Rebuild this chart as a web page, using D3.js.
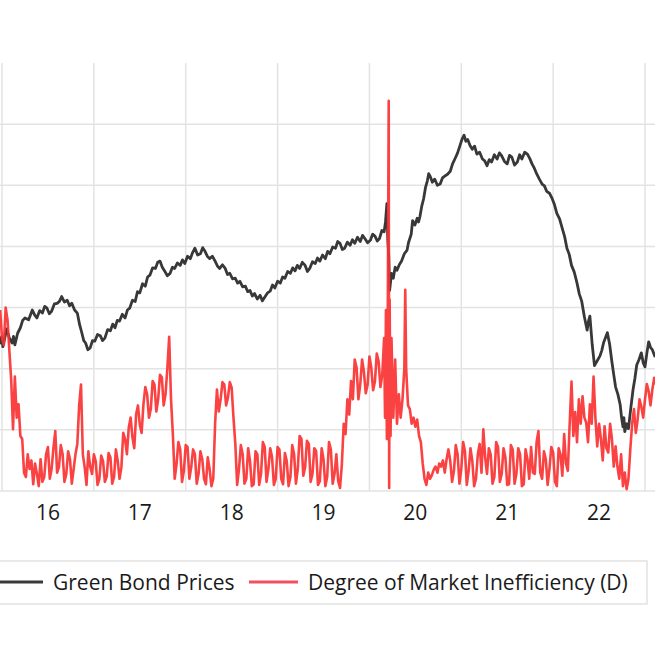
<!DOCTYPE html>
<html>
<head>
<meta charset="utf-8">
<script src="https://cdn.jsdelivr.net/npm/d3@7"></script>
<style>
  body { margin: 0; background: #fff; }
  svg { display: block; }
  .grid line { stroke: #e3e3e3; stroke-width: 1.5; }
  text { font-family: "Open Sans", "Noto Sans", sans-serif; fill: #1a1a1a; }
</style>
</head>
<body>
<div id="chart"></div>
<script>
// year tick labels (mid-year) and year boundaries for the grid
const yearLabels = ["16", "17", "18", "19", "20", "21", "22"];
const yearStarts = [2016, 2017, 2018, 2019, 2020, 2021, 2022, 2023];

// Green bond prices (left axis, cropped off): [year, price]
const pricePoints = [
  [2015.98,104.0],[2015.995,105.2],[2016.01,103.6],[2016.03,105.0],[2016.05,106.5],[2016.08,105.0],
  [2016.11,104.2],[2016.125,105.3],[2016.14,103.9],[2016.17,105.8],[2016.20,106.7],[2016.225,107.9],
  [2016.25,108.3],[2016.29,108.0],[2016.33,109.6],[2016.355,108.8],[2016.38,108.3],[2016.41,109.5],
  [2016.44,109.1],[2016.465,110.2],[2016.49,109.9],[2016.515,109.0],[2016.54,109.4],[2016.57,110.6],
  [2016.60,110.7],[2016.625,111.0],[2016.65,111.8],[2016.68,110.9],[2016.71,111.2],[2016.735,110.3],
  [2016.76,110.7],[2016.79,109.6],[2016.82,109.1],[2016.845,107.2],[2016.87,105.8],[2016.89,104.6],
  [2016.91,104.2],[2016.935,103.1],[2016.96,103.4],[2016.985,104.6],[2017.01,104.5],[2017.04,105.6],
  [2017.07,105.4],[2017.095,104.6],[2017.12,105.0],[2017.15,106.4],[2017.18,106.2],[2017.205,107.3],
  [2017.23,106.7],[2017.255,107.9],[2017.28,107.8],[2017.31,108.9],[2017.34,108.3],[2017.365,109.6],
  [2017.39,109.9],[2017.42,111.2],[2017.45,111.0],[2017.475,112.6],[2017.50,112.4],[2017.53,113.9],
  [2017.56,113.5],[2017.585,115.0],[2017.61,115.3],[2017.64,116.5],[2017.67,116.4],[2017.695,117.4],
  [2017.72,117.6],[2017.745,116.6],[2017.77,116.0],[2017.80,115.2],[2017.83,115.6],[2017.855,116.6],
  [2017.88,116.4],[2017.91,117.3],[2017.94,116.9],[2017.965,117.8],[2017.99,117.2],[2018.02,118.4],
  [2018.05,118.0],[2018.075,119.0],[2018.10,119.7],[2018.13,118.6],[2018.16,118.8],[2018.185,119.8],
  [2018.21,119.2],[2018.235,118.4],[2018.26,118.0],[2018.29,118.4],[2018.32,117.6],[2018.345,116.8],
  [2018.37,116.4],[2018.40,117.0],[2018.43,116.4],[2018.455,115.4],[2018.48,115.6],[2018.51,114.7],
  [2018.54,114.8],[2018.565,114.0],[2018.59,114.3],[2018.62,113.4],[2018.65,113.5],[2018.675,112.6],
  [2018.70,112.8],[2018.725,111.9],[2018.75,112.3],[2018.78,111.4],[2018.81,112.0],[2018.835,111.1],
  [2018.86,111.7],[2018.89,112.4],[2018.92,112.7],[2018.945,113.7],[2018.97,113.2],[2019.00,114.3],
  [2019.03,114.0],[2019.055,115.0],[2019.08,114.8],[2019.11,115.9],[2019.14,115.6],[2019.165,116.5],
  [2019.19,116.0],[2019.215,116.9],[2019.24,116.4],[2019.27,117.4],[2019.30,116.9],[2019.325,115.9],
  [2019.35,116.4],[2019.38,117.5],[2019.41,117.2],[2019.435,118.1],[2019.46,117.6],[2019.49,118.6],
  [2019.52,118.0],[2019.545,119.2],[2019.57,118.8],[2019.60,119.9],[2019.63,119.7],[2019.655,120.8],
  [2019.68,120.5],[2019.705,119.5],[2019.73,119.7],[2019.76,120.7],[2019.79,120.2],[2019.815,121.1],
  [2019.84,120.5],[2019.87,121.5],[2019.90,120.8],[2019.925,121.8],[2019.95,121.3],[2019.98,120.6],
  [2020.01,121.0],[2020.035,122.0],[2020.06,121.7],[2020.085,120.9],[2020.11,121.3],[2020.135,122.6],
  [2020.16,122.4],[2020.175,124.0],[2020.19,127.0],[2020.20,121.0],[2020.21,118.8],[2020.22,112.8],
  [2020.24,115.6],[2020.26,114.8],[2020.28,116.6],[2020.30,116.1],[2020.325,117.0],[2020.35,117.6],
  [2020.38,118.8],[2020.41,119.4],[2020.425,120.6],[2020.44,121.3],[2020.455,122.0],[2020.47,124.2],
  [2020.495,123.5],[2020.52,124.6],[2020.535,124.0],[2020.55,124.9],[2020.57,126.6],[2020.59,127.8],
  [2020.61,129.6],[2020.63,130.7],[2020.645,131.9],[2020.66,131.5],[2020.685,130.5],[2020.71,131.0],
  [2020.74,130.0],[2020.77,130.2],[2020.795,131.2],[2020.82,131.5],[2020.85,131.8],[2020.88,132.3],
  [2020.905,133.5],[2020.93,134.3],[2020.96,135.3],[2020.99,136.7],[2021.01,137.6],[2021.03,138.2],
  [2021.05,137.2],[2021.07,137.5],[2021.095,136.5],[2021.12,135.9],[2021.145,136.4],[2021.17,135.1],
  [2021.20,135.4],[2021.23,134.3],[2021.255,134.0],[2021.28,133.2],[2021.305,134.2],[2021.33,133.8],
  [2021.36,135.0],[2021.39,134.3],[2021.415,135.3],[2021.44,134.8],[2021.47,133.9],[2021.50,133.5],
  [2021.525,134.9],[2021.55,134.6],[2021.58,133.3],[2021.61,133.8],[2021.635,135.0],[2021.66,134.3],
  [2021.69,135.4],[2021.72,135.1],[2021.745,134.4],[2021.77,133.5],[2021.795,132.8],[2021.82,131.9],
  [2021.85,131.0],[2021.88,130.2],[2021.905,129.9],[2021.93,129.0],[2021.96,128.7],[2021.99,127.8],
  [2022.015,126.8],[2022.04,125.4],[2022.07,124.5],[2022.10,122.9],[2022.125,121.6],[2022.15,119.7],
  [2022.175,118.7],[2022.20,116.9],[2022.23,115.8],[2022.26,114.0],[2022.285,112.2],[2022.31,111.1],
  [2022.34,108.5],[2022.37,106.3],[2022.385,107.8],[2022.40,108.6],[2022.425,104.0],[2022.45,100.5],
  [2022.48,101.3],[2022.51,102.1],[2022.53,103.0],[2022.55,104.3],[2022.59,105.9],[2022.615,104.0],
  [2022.64,101.1],[2022.66,99.0],[2022.68,97.0],[2022.705,95.8],[2022.73,94.1],[2022.745,92.0],
  [2022.76,90.5],[2022.77,92.0],[2022.78,89.7],[2022.80,91.0],[2022.82,90.2],[2022.845,93.5],
  [2022.87,96.6],[2022.89,98.4],[2022.91,100.6],[2022.935,101.5],[2022.96,102.6],[2022.98,101.0],
  [2023.00,100.3],[2023.02,102.5],[2023.04,104.4],[2023.06,103.5],[2023.08,103.1],[2023.11,101.9]
];

// Degree of market inefficiency D (right axis, cropped off): [year, D]
const dPoints = [
  [2015.98,0.296],[2016.00,0.250],[2016.02,0.239],[2016.04,0.300],[2016.06,0.280],[2016.08,0.230],
  [2016.10,0.182],[2016.12,0.101],[2016.14,0.187],[2016.16,0.120],[2016.18,0.142],[2016.20,0.090],
  [2016.22,0.085],[2016.24,0.030],[2016.26,0.023],[2016.28,0.060],[2016.30,0.036],[2016.32,0.050],
  [2016.34,0.011],[2016.36,0.045],[2016.38,0.028],[2016.40,0.008],[2016.42,0.052],[2016.44,0.015],
  [2016.46,0.023],[2016.48,0.060],[2016.50,0.072],[2016.52,0.020],[2016.54,0.036],[2016.56,0.070],
  [2016.58,0.098],[2016.60,0.030],[2016.62,0.039],[2016.64,0.075],[2016.66,0.060],[2016.68,0.015],
  [2016.70,0.028],[2016.72,0.065],[2016.74,0.052],[2016.76,0.012],[2016.78,0.036],[2016.80,0.060],
  [2016.82,0.077],[2016.84,0.140],[2016.86,0.174],[2016.88,0.060],[2016.90,0.039],[2016.92,0.010],
  [2016.94,0.065],[2016.96,0.040],[2016.98,0.028],[2017.00,0.060],[2017.02,0.049],[2017.04,0.010],
  [2017.06,0.020],[2017.08,0.058],[2017.10,0.049],[2017.12,0.015],[2017.14,0.024],[2017.16,0.062],
  [2017.18,0.055],[2017.20,0.012],[2017.22,0.023],[2017.24,0.068],[2017.26,0.049],[2017.28,0.020],
  [2017.30,0.039],[2017.32,0.095],[2017.34,0.085],[2017.36,0.060],[2017.38,0.104],[2017.40,0.120],
  [2017.42,0.088],[2017.44,0.070],[2017.46,0.125],[2017.48,0.140],[2017.50,0.109],[2017.52,0.095],
  [2017.54,0.142],[2017.56,0.170],[2017.58,0.158],[2017.60,0.120],[2017.62,0.134],[2017.64,0.180],
  [2017.66,0.174],[2017.68,0.130],[2017.70,0.150],[2017.72,0.190],[2017.74,0.186],[2017.76,0.140],
  [2017.78,0.158],[2017.80,0.200],[2017.82,0.252],[2017.84,0.150],[2017.86,0.093],[2017.88,0.020],
  [2017.90,0.044],[2017.92,0.080],[2017.94,0.068],[2017.96,0.015],[2017.98,0.033],[2018.00,0.075],
  [2018.02,0.072],[2018.04,0.020],[2018.06,0.039],[2018.08,0.068],[2018.10,0.060],[2018.12,0.012],
  [2018.14,0.028],[2018.16,0.065],[2018.18,0.052],[2018.20,0.020],[2018.22,0.011],[2018.24,0.055],
  [2018.26,0.036],[2018.28,0.008],[2018.30,0.020],[2018.32,0.110],[2018.34,0.166],[2018.36,0.130],
  [2018.38,0.150],[2018.40,0.178],[2018.42,0.174],[2018.44,0.140],[2018.46,0.153],[2018.48,0.178],
  [2018.50,0.169],[2018.52,0.120],[2018.54,0.077],[2018.56,0.010],[2018.58,0.036],[2018.60,0.075],
  [2018.62,0.060],[2018.64,0.012],[2018.66,0.020],[2018.68,0.070],[2018.70,0.049],[2018.72,0.008],
  [2018.74,0.011],[2018.76,0.065],[2018.78,0.060],[2018.80,0.010],[2018.82,0.028],[2018.84,0.080],
  [2018.86,0.072],[2018.88,0.015],[2018.90,0.036],[2018.92,0.070],[2018.94,0.055],[2018.96,0.010],
  [2018.98,0.020],[2019.00,0.072],[2019.02,0.068],[2019.04,0.020],[2019.06,0.011],[2019.08,0.062],
  [2019.10,0.049],[2019.12,0.008],[2019.14,0.023],[2019.16,0.075],[2019.18,0.060],[2019.20,0.012],
  [2019.22,0.036],[2019.24,0.090],[2019.26,0.085],[2019.28,0.025],[2019.30,0.039],[2019.32,0.082],
  [2019.34,0.077],[2019.36,0.015],[2019.38,0.028],[2019.40,0.070],[2019.42,0.065],[2019.44,0.010],
  [2019.46,0.016],[2019.48,0.070],[2019.50,0.052],[2019.52,0.008],[2019.54,0.023],[2019.56,0.080],
  [2019.58,0.068],[2019.60,0.012],[2019.62,0.028],[2019.64,0.060],[2019.66,0.016],[2019.68,0.005],
  [2019.70,0.044],[2019.72,0.110],[2019.74,0.093],[2019.76,0.150],[2019.78,0.125],[2019.80,0.180],
  [2019.82,0.150],[2019.84,0.215],[2019.86,0.202],[2019.88,0.150],[2019.90,0.174],[2019.92,0.215],
  [2019.94,0.195],[2019.96,0.160],[2019.98,0.174],[2020.00,0.220],[2020.02,0.202],[2020.04,0.165],
  [2020.06,0.179],[2020.08,0.225],[2020.10,0.212],[2020.12,0.170],[2020.14,0.191],[2020.16,0.250],
  [2020.17,0.120],[2020.18,0.296],[2020.19,0.085],[2020.20,0.300],[2020.21,0.638],[2020.215,0.005],
  [2020.22,0.313],[2020.23,0.090],[2020.24,0.250],[2020.26,0.120],[2020.28,0.215],[2020.30,0.110],
  [2020.32,0.158],[2020.34,0.120],[2020.36,0.150],[2020.38,0.200],[2020.39,0.329],[2020.40,0.200],
  [2020.42,0.140],[2020.44,0.134],[2020.46,0.110],[2020.48,0.120],[2020.50,0.105],[2020.52,0.117],
  [2020.54,0.090],[2020.56,0.080],[2020.58,0.045],[2020.60,0.020],[2020.62,0.010],[2020.64,0.030],
  [2020.66,0.020],[2020.68,0.026],[2020.70,0.035],[2020.72,0.040],[2020.74,0.030],[2020.76,0.045],
  [2020.78,0.040],[2020.80,0.050],[2020.82,0.030],[2020.84,0.052],[2020.86,0.068],[2020.88,0.049],
  [2020.90,0.015],[2020.92,0.033],[2020.94,0.075],[2020.96,0.060],[2020.98,0.012],[2021.00,0.036],
  [2021.02,0.080],[2021.04,0.065],[2021.06,0.010],[2021.08,0.033],[2021.10,0.070],[2021.12,0.049],
  [2021.14,0.008],[2021.16,0.020],[2021.18,0.060],[2021.20,0.077],[2021.22,0.030],[2021.24,0.101],
  [2021.26,0.055],[2021.28,0.028],[2021.30,0.070],[2021.32,0.060],[2021.34,0.012],[2021.36,0.023],
  [2021.38,0.080],[2021.40,0.072],[2021.42,0.015],[2021.44,0.028],[2021.46,0.070],[2021.48,0.055],
  [2021.50,0.010],[2021.52,0.011],[2021.54,0.075],[2021.56,0.068],[2021.58,0.012],[2021.60,0.028],
  [2021.62,0.070],[2021.64,0.060],[2021.66,0.008],[2021.68,0.011],[2021.70,0.068],[2021.72,0.052],
  [2021.74,0.020],[2021.76,0.072],[2021.78,0.030],[2021.80,0.028],[2021.82,0.080],[2021.84,0.098],
  [2021.86,0.030],[2021.88,0.020],[2021.90,0.065],[2021.92,0.052],[2021.94,0.010],[2021.96,0.036],
  [2021.98,0.072],[2022.00,0.063],[2022.02,0.015],[2022.04,0.008],[2022.06,0.070],[2022.08,0.060],
  [2022.10,0.025],[2022.12,0.093],[2022.14,0.045],[2022.16,0.033],[2022.18,0.110],[2022.20,0.179],
  [2022.22,0.090],[2022.24,0.129],[2022.26,0.080],[2022.28,0.150],[2022.30,0.110],[2022.32,0.155],
  [2022.34,0.120],[2022.36,0.112],[2022.38,0.080],[2022.40,0.142],[2022.42,0.110],[2022.44,0.187],
  [2022.46,0.120],[2022.48,0.073],[2022.50,0.110],[2022.52,0.085],[2022.54,0.050],[2022.56,0.106],
  [2022.58,0.070],[2022.60,0.063],[2022.62,0.110],[2022.64,0.085],[2022.66,0.040],[2022.68,0.073],
  [2022.70,0.040],[2022.72,0.020],[2022.74,0.060],[2022.76,0.008],[2022.78,0.030],[2022.80,0.003],
  [2022.82,0.020],[2022.84,0.068],[2022.86,0.110],[2022.88,0.134],[2022.90,0.095],[2022.92,0.117],
  [2022.94,0.150],[2022.96,0.138],[2022.98,0.120],[2023.00,0.150],[2023.02,0.175],[2023.04,0.163],
  [2023.06,0.140],[2023.08,0.166],[2023.10,0.185],[2023.12,0.174]
];

const seriesNames = ["Green Bond Prices", "Degree of Market Inefficiency (D)"];
const seriesColors = ["#383838", "#fa3232"];
const legendColors = ["#3a3a3a", "#f25060"];

function drawChart(selector) {
  const W = 655, H = 655;
  const plot = {left: 2, right: 645, top: 63, bottom: 491};

  const svg = d3.select(selector).append("svg")
    .attr("width", W).attr("height", H);

  const x = d3.scaleLinear().domain([2016, 2023]).range([plot.left, plot.right]);
  const yPrice = d3.scaleLinear().domain([80, 150]).range([plot.bottom, plot.top]);
  const yD = d3.scaleLinear().domain([0, 0.7]).range([plot.bottom, plot.top]);

  // grid
  const grid = svg.append("g").attr("class", "grid");
  grid.selectAll("line.v").data(yearStarts).join("line")
    .attr("class", "v")
    .attr("x1", d => x(d)).attr("x2", d => x(d))
    .attr("y1", plot.top).attr("y2", plot.bottom);
  grid.selectAll("line.h").data(yPrice.ticks(7).filter(t => t < 150)).join("line")
    .attr("class", "h")
    .attr("x1", 0).attr("x2", W)
    .attr("y1", d => yPrice(d)).attr("y2", d => yPrice(d));

  svg.append("clipPath").attr("id", "clip")
    .append("rect").attr("x", 0).attr("y", plot.top - 10)
    .attr("width", W).attr("height", plot.bottom - plot.top + 10);

  const g = svg.append("g").attr("clip-path", "url(#clip)");
  g.append("path").datum(pricePoints)
    .attr("fill", "none")
    .attr("stroke", seriesColors[0])
    .attr("stroke-width", 2.8)
    .attr("stroke-linejoin", "round")
    .attr("d", d3.line().x(p => x(p[0])).y(p => yPrice(p[1])));
  g.append("path").datum(dPoints)
    .attr("fill", "none")
    .attr("stroke", seriesColors[1])
    .attr("stroke-opacity", 0.92)
    .attr("stroke-width", 2.6)
    .attr("stroke-linejoin", "round")
    .attr("d", d3.line().x(p => x(p[0])).y(p => yD(p[1])));

  // year labels
  svg.append("g").selectAll("text").data(yearLabels).join("text")
    .attr("x", (d, i) => x(2016.5 + i))
    .attr("y", 520)
    .attr("text-anchor", "middle")
    .attr("font-size", 21)
    .text(d => d);

  // legend
  const lg = svg.append("g");
  lg.append("rect")
    .attr("x", -5).attr("y", 561).attr("width", 652).attr("height", 43)
    .attr("fill", "none").attr("stroke", "#e2e2e2").attr("stroke-width", 1.5);
  const items = [
    {x1: 0, x2: 43, tx: 53},
    {x1: 249, x2: 298, tx: 308}
  ];
  items.forEach((it, i) => {
    lg.append("line")
      .attr("x1", it.x1).attr("x2", it.x2).attr("y1", 582).attr("y2", 582)
      .attr("stroke", legendColors[i]).attr("stroke-width", 3);
    lg.append("text")
      .attr("x", it.tx).attr("y", 589.5)
      .attr("font-size", 21)
      .text(seriesNames[i]);
  });
}

document.addEventListener("DOMContentLoaded", function () {
  drawChart("#chart");
});
</script>
</body>
</html>
